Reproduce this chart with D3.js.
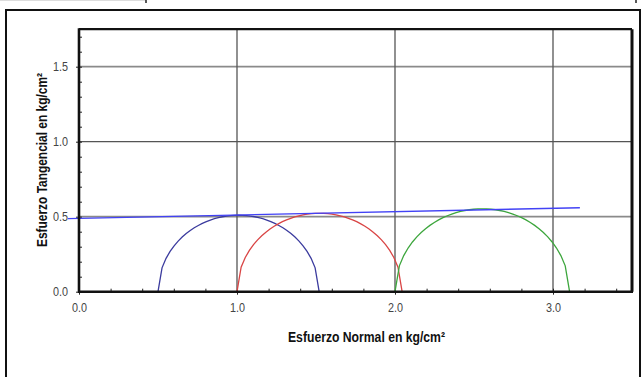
<!DOCTYPE html>
<html><head><meta charset="utf-8">
<script src="https://cdn.jsdelivr.net/npm/d3@7"></script>
<style>
html,body{margin:0;padding:0;background:#fff;}
svg{display:block;}
text{font-family:"Liberation Sans",Arial,sans-serif;}
</style></head>
<body>
<svg id="chart" width="644" height="377"></svg>
<script>
// Mohr circles: minor and major principal stresses (kg/cm²)
const circleNames = ["Probeta 1", "Probeta 2", "Probeta 3"];
const sigma3 = [0.50, 1.00, 2.00];
const sigma1 = [1.52, 2.045, 3.105];
const circleColors = ["#3b3b9e", "#d94545", "#3da63d"];
// Failure envelope endpoints
const envelopeX = [-0.07, 3.17];
const envelopeY = [0.487, 0.560];
// Axis ticks
const xTickLabels = [0, 1, 2, 3];
const yTickLabels = [0, 0.5, 1.0, 1.5];
const xGrid = [1, 2, 3];
const yGrid = [0.5, 1.0, 1.5];

const svg = d3.select("#chart");
const x = d3.scaleLinear().domain([0, 3.5]).range([79, 632]);
const y = d3.scaleLinear().domain([0, 1.75]).range([291.7, 29.2]);

// outer frame
svg.append("rect").attr("x", 6).attr("y", 10).attr("width", 634).attr("height", 380)
  .attr("fill", "none").attr("stroke", "#111").attr("stroke-width", 2);
// remnants at top
svg.append("line").attr("x1", 0).attr("x2", 146).attr("y1", 0.5).attr("y2", 0.5).attr("stroke", "#ddd");
svg.append("line").attr("x1", 146).attr("x2", 146).attr("y1", 0).attr("y2", 3).attr("stroke", "#222").attr("stroke-width", 1.5);
svg.append("line").attr("x1", 636).attr("x2", 636).attr("y1", 0).attr("y2", 3).attr("stroke", "#222").attr("stroke-width", 1.5);

// grid
svg.append("g").selectAll("line").data(yGrid).join("line")
  .attr("x1", x(0)).attr("x2", x(3.5)).attr("y1", d => y(d)).attr("y2", d => y(d))
  .attr("stroke", d => d === 1.0 ? "#555" : "#8a8a8a").attr("stroke-width", d => d === 1.0 ? 1.2 : 1.8);
svg.append("g").selectAll("line").data(xGrid).join("line")
  .attr("x1", d => x(d)).attr("x2", d => x(d)).attr("y1", y(0)).attr("y2", y(1.75))
  .attr("stroke", "#555").attr("stroke-width", 1.3);

// minor ticks (inside)
const xMinor = d3.range(0, 3.5001, 0.2);
const yMinor = d3.range(0, 1.7501, 0.1);
svg.append("g").attr("transform", `translate(0,${y(0)})`)
  .call(d3.axisBottom(x).tickValues(xMinor).tickSize(-3).tickFormat(""))
  .call(g => g.select(".domain").remove())
  .call(g => g.selectAll("line").attr("stroke", "#222"));
svg.append("g").attr("transform", `translate(${x(0)},0)`)
  .call(d3.axisLeft(y).tickValues(yMinor).tickSize(-3).tickFormat(""))
  .call(g => g.select(".domain").remove())
  .call(g => g.selectAll("line").attr("stroke", "#222"));

// major ticks and labels
const xAxis = svg.append("g").attr("transform", `translate(0,${y(0)})`)
  .call(d3.axisBottom(x).tickValues(xTickLabels).tickSize(3).tickPadding(8).tickFormat(d3.format(".1f")));
xAxis.select(".domain").remove();
xAxis.selectAll("line").attr("stroke", "#222");
xAxis.selectAll("text").attr("font-size", 13).attr("fill", "#444")
  .attr("font-family", "'Liberation Sans',Arial,sans-serif")
  .attr("textLength", 15).attr("lengthAdjust", "spacingAndGlyphs");
const yAxis = svg.append("g").attr("transform", `translate(${x(0)},0)`)
  .call(d3.axisLeft(y).tickValues(yTickLabels).tickSize(3).tickPadding(8).tickFormat(d3.format(".1f")));
yAxis.select(".domain").remove();
yAxis.selectAll("line").attr("stroke", "#222");
yAxis.selectAll("text").attr("font-size", 13).attr("fill", "#444")
  .attr("font-family", "'Liberation Sans',Arial,sans-serif")
  .attr("textLength", 15).attr("lengthAdjust", "spacingAndGlyphs");

// plot border
svg.append("line").attr("x1", x(0)).attr("x2", x(3.5)).attr("y1", y(1.75)).attr("y2", y(1.75)).attr("stroke", "#111").attr("stroke-width", 2.2);
svg.append("line").attr("x1", x(3.5)).attr("x2", x(3.5)).attr("y1", y(1.75)).attr("y2", y(0)).attr("stroke", "#111").attr("stroke-width", 3);

// Mohr circles (upper halves), sampled along sigma
const line = d3.line().x(d => x(d[0])).y(d => y(d[1]));
const circles = sigma3.map((s3, i) => {
  const s1 = sigma1[i], c = (s1 + s3) / 2, r = (s1 - s3) / 2;
  const n = 40, pts = [];
  for (let k = 0; k <= n; k++) {
    const s = s3 + (s1 - s3) * k / n;
    pts.push([s, Math.sqrt(Math.max(0, r * r - (s - c) * (s - c)))]);
  }
  return {name: circleNames[i], color: circleColors[i], pts};
});
svg.append("g").selectAll("path").data(circles).join("path")
  .attr("d", d => line(d.pts)).attr("fill", "none")
  .attr("stroke", d => d.color).attr("stroke-width", 1.3);

// envelope
svg.append("path").datum(envelopeX.map((v, i) => [v, envelopeY[i]]))
  .attr("d", line).attr("fill", "none").attr("stroke", "#4242f5").attr("stroke-width", 1.4);

// axes lines (left & bottom)
svg.append("line").attr("x1", x(0)).attr("x2", x(0)).attr("y1", y(1.75) - 1).attr("y2", y(0) + 1).attr("stroke", "#111").attr("stroke-width", 2.6);
svg.append("line").attr("x1", x(0) - 1).attr("x2", x(3.5) + 1).attr("y1", y(0)).attr("y2", y(0)).attr("stroke", "#111").attr("stroke-width", 2.6);

// titles
svg.append("text").attr("x", 366.5).attr("y", 342).attr("text-anchor", "middle")
  .attr("font-size", 14).attr("font-weight", "bold").attr("fill", "#111")
  .attr("textLength", 157).attr("lengthAdjust", "spacingAndGlyphs")
  .text("Esfuerzo Normal en kg/cm²");
svg.append("text").attr("transform", "translate(47,160) rotate(-90)").attr("text-anchor", "middle")
  .attr("font-size", 14).attr("font-weight", "bold").attr("fill", "#111")
  .attr("textLength", 174).attr("lengthAdjust", "spacingAndGlyphs")
  .text("Esfuerzo Tangencial en kg/cm²");
</script>
</body></html>
